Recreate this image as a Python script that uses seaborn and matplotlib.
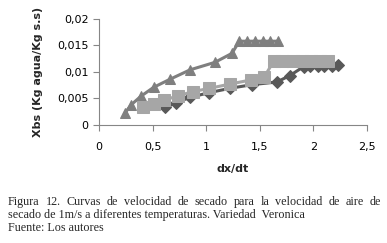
import matplotlib as mpl
mpl.use('Agg')
import matplotlib.pyplot as plt
from matplotlib.ticker import FuncFormatter
import seaborn as sb
import pandas as pd

# triangles (upper curve)
tri_x = [0.24, 0.30, 0.39, 0.51, 0.66, 0.85, 1.08, 1.24, 1.31, 1.38, 1.46, 1.53, 1.60, 1.67]
tri_y = [0.0022, 0.0038, 0.0054, 0.0071, 0.0086, 0.0104, 0.0118, 0.0135,
         0.0158, 0.0158, 0.0158, 0.0158, 0.0158, 0.0158]
# squares (middle curve)
sq_x = [0.41, 0.51, 0.61, 0.74, 0.88, 1.03, 1.22, 1.42, 1.54,
        1.63, 1.71, 1.81, 1.89, 1.98, 2.06, 2.14]
sq_y = [0.0033, 0.0039, 0.0047, 0.0055, 0.0063, 0.0069, 0.0077, 0.0085, 0.0090,
        0.0120, 0.0120, 0.0120, 0.0120, 0.0120, 0.0120, 0.0120]
# diamonds (lower curve)
dia_x = [0.62, 0.72, 0.85, 1.03, 1.22, 1.43, 1.66, 1.78, 1.91, 1.97, 2.04, 2.10, 2.17, 2.23]
dia_y = [0.0033, 0.0042, 0.0052, 0.0061, 0.0069, 0.0076, 0.0081, 0.0093,
         0.0110, 0.0111, 0.0111, 0.0111, 0.0112, 0.0113]

x_ticks = [0, 0.5, 1, 1.5, 2, 2.5]
y_ticks = [0, 0.005, 0.01, 0.015, 0.02]
caption = ["Figura 12. Curvas de velocidad de secado para la velocidad de aire de",
           "secado de 1m/s a diferentes temperaturas. Variedad  Veronica",
           "Fuente: Los autores"]

sb.set_style("white")
plt.rcParams['font.family'] = ['DejaVu Sans']

W, H = 387, 243
fig = plt.figure(figsize=(W / 100, H / 100), dpi=100)
ax = fig.add_axes([0.256, 0.486, 0.692, 0.436])

series = [(tri_x, tri_y, '^', '#7f7f7f', 7),
          (dia_x, dia_y, 'D', '#595959', 6),
          (sq_x, sq_y, 's', '#a6a6a6', 8)]
for xs, ys, mk, col, ms in series:
    df = pd.DataFrame({'x': xs, 'y': ys})
    sb.lineplot(data=df, x='x', y='y', sort=False, marker=mk, color=col,
                markersize=ms, markeredgecolor=col, linewidth=2.2, ax=ax)

ax.set_xlim(0, 2.5)
ax.set_ylim(0, 0.02)
ax.set_xticks(x_ticks)
ax.set_yticks(y_ticks)
comma = FuncFormatter(lambda v, p: ('%g' % v).replace('.', ','))
ax.xaxis.set_major_formatter(comma)
ax.yaxis.set_major_formatter(comma)
for s in ['top', 'right']:
    ax.spines[s].set_visible(False)
for s in ['left', 'bottom']:
    ax.spines[s].set_color('#868686')
    ax.spines[s].set_linewidth(0.8)
ax.tick_params(axis='both', which='major', length=4, width=0.8, color='#868686',
               labelsize=8, labelcolor='black', direction='out', bottom=True, left=True)
ax.tick_params(axis='x', pad=8)
ax.set_xlabel("dx/dt", fontsize=8, fontweight='bold', labelpad=9)
ax.set_ylabel("Xbs (Kg agua/Kg s.s)", fontsize=8, fontweight='bold')
ax.yaxis.set_label_coords(-0.21, 0.5)

# caption: first line justified between x=8 and x=381 px
cap_font = dict(family='Liberation Serif', fontsize=8.7, va='center')
ys_cap = [202, 215, 228]
renderer = fig.canvas.get_renderer()
words = caption[0].split(' ')
txts = [fig.text(0, 1 - ys_cap[0] / H, w, ha='left', **cap_font) for w in words]
widths = [t.get_window_extent(renderer).width for t in txts]
gap = (373 - sum(widths)) / (len(words) - 1)
xpos = 8.0
for t, w in zip(txts, widths):
    t.set_x(xpos / W)
    xpos += w + gap
for line, yp in zip(caption[1:], ys_cap[1:]):
    fig.text(8 / W, 1 - yp / H, line, ha='left', **cap_font)

fig.savefig('out.png', dpi=100)
